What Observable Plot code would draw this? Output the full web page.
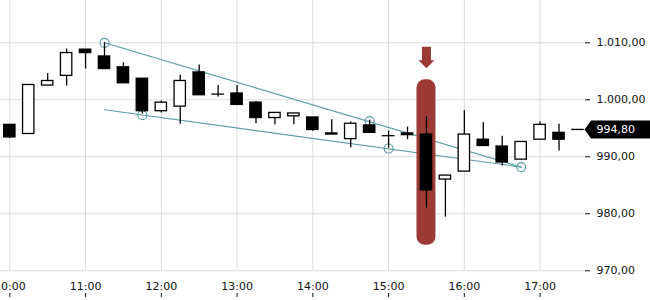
<!DOCTYPE html>
<html>
<head>
<meta charset="utf-8">
<script src="https://cdn.jsdelivr.net/npm/d3@7"></script>
<script src="https://cdn.jsdelivr.net/npm/@observablehq/plot@0.6"></script>
<style>
  html, body { margin: 0; padding: 0; background: #fff; }
  #chart { width: 650px; height: 300px; overflow: hidden; }
</style>
</head>
<body>
<div id="chart"></div>
<script>
// ---- data ----
const times = ["10:00","10:15","10:30","10:45","11:00","11:15","11:30","11:45","12:00","12:15","12:30","12:45","13:00","13:15","13:30","13:45","14:00","14:15","14:30","14:45","15:00","15:15","15:30","15:45","16:00","16:15","16:30","16:45","17:00","17:15","17:30"];
const open  = [995.6, 994.0, 1002.5, 1004.2, 1008.8, 1007.6, 1005.7, 1003.7, 998.0, 998.8, 1004.8, 1001.0, 1001.1, 999.5, 996.8, 997.1, 996.9, 994.1, 993.1, 995.5, 993.7, 994.1, 993.9, 986.0, 987.4, 993.0, 991.8, 989.5, 993.0, 994.2, 994.8];
const high  = [995.6, 1002.6, 1004.6, 1008.9, 1008.8, 1010.0, 1006.5, 1003.7, 999.8, 1004.3, 1006.1, 1002.5, 1002.5, 999.7, 997.7, 997.6, 996.9, 996.5, 996.1, 996.4, 994.5, 995.2, 997.0, 986.7, 998.1, 996.0, 993.6, 992.6, 996.1, 995.7, 994.8];
const low   = [993.2, 994.0, 1002.5, 1002.4, 1005.4, 1005.4, 1002.9, 997.5, 997.7, 995.7, 1000.8, 1000.5, 999.0, 995.8, 995.6, 995.6, 994.5, 993.9, 991.6, 994.2, 991.5, 993.0, 981.0, 979.4, 987.4, 991.9, 988.4, 989.5, 993.0, 991.0, 994.8];
const close = [993.4, 1002.6, 1003.3, 1008.2, 1008.2, 1005.4, 1002.9, 998.0, 999.5, 1003.3, 1000.8, 1001.0, 999.1, 996.8, 997.7, 997.6, 994.7, 993.9, 995.8, 994.2, 993.7, 993.8, 984.1, 986.7, 993.9, 991.9, 989.0, 992.6, 995.6, 993.0, 994.8];

const highlightTime = "15:30";
const lastPrice = 994.80;

const trendTimes = ["11:15", "16:45"];
const upperTrend = [1010.0, 988.2];
const lowerTrend = [998.25, 988.2];

const pivotTimes  = ["11:15", "11:45", "14:45", "15:00", "16:45"];
const pivotValues = [1010.0, 997.3, 996.25, 991.45, 988.2];

const hourTicks = ["10:00","11:00","12:00","13:00","14:00","15:00","16:00","17:00"];
const yTicks = [970, 980, 990, 1000, 1010];

// ---- helpers ----
const T = s => { const [h, m] = s.split(":").map(Number); return new Date(2024, 0, 15, h, m, 0); };
const off = (d, min) => new Date(d.getTime() + min * 60000);
const de = d3.formatLocale({decimal: ",", thousands: ".", grouping: [3], currency: ["", " €"]});
const fmt = de.format(",.2f");
const hm = d3.timeFormat("%H:%M");

const candles = times.map((t, i) => ({t: T(t), o: open[i], h: high[i], l: low[i], c: close[i], up: close[i] >= open[i]}));
const bodies = candles.filter(d => d.o !== d.c);
const dojis = candles.filter(d => d.o === d.c);
const hl = candles.find(d => hm(d.t) === highlightTime);
const pad = 6.5;
const highlight = [{t: hl.t, top: hl.h + pad, bottom: hl.l - pad}];

const trendUpper = trendTimes.map((t, i) => ({t: T(t), v: upperTrend[i]}));
const trendLower = trendTimes.map((t, i) => ({t: T(t), v: lowerTrend[i]}));
const pivots = pivotTimes.map((t, i) => ({t: T(t), v: pivotValues[i]}));
const hours = hourTicks.map(T);

const teal = "#5c9ea5";
const red = "#9c3b35";

const arrowSymbol = {
  draw(ctx) {
    ctx.moveTo(-4.5, -33);
    ctx.lineTo(4.5, -33);
    ctx.lineTo(4.5, -19.5);
    ctx.lineTo(8, -19.5);
    ctx.lineTo(0, -11.5);
    ctx.lineTo(-8, -19.5);
    ctx.lineTo(-4.5, -19.5);
    ctx.closePath();
  }
};
const tagSymbol = {
  draw(ctx) {
    ctx.moveTo(0, 0);
    ctx.lineTo(6.5, -9);
    ctx.lineTo(80, -9);
    ctx.lineTo(80, 9);
    ctx.lineTo(6.5, 9);
    ctx.closePath();
  }
};

const chart = Plot.plot({
  width: 650,
  height: 300,
  marginLeft: 0,
  marginRight: 66,
  marginTop: 0,
  marginBottom: 30,
  style: {fontFamily: "DejaVu Sans", fontSize: "11px", color: "#111", background: "#fff", overflow: "visible"},
  x: {type: "time", domain: [new Date(2024, 0, 15, 9, 52, 38), new Date(2024, 0, 15, 17, 35, 10)], label: null},
  y: {domain: [970.05, 1017.42], label: null},
  marks: [
    Plot.gridY(yTicks, {stroke: "#dcdcdc", strokeOpacity: 1}),
    Plot.gridX(hours, {stroke: "#dcdcdc", strokeOpacity: 1}),
    Plot.axisY(yTicks, {anchor: "right", tickSize: 5, tickPadding: 7, tickFormat: fmt, stroke: "#111", fill: "#111"}),
    Plot.axisX(hours, {tickSize: 0, tickPadding: 12, tickFormat: hm, fill: "#111"}),
    Plot.ruleX(hours, {x: d => d, insetTop: 293, insetBottom: -27, stroke: "#111", strokeWidth: 1}),
    // trend lines
    Plot.line(trendUpper, {x: "t", y: "v", stroke: teal, strokeWidth: 1.2}),
    Plot.line(trendLower, {x: "t", y: "v", stroke: teal, strokeWidth: 1.2}),
    Plot.dot(pivots, {x: "t", y: "v", r: 4.5, stroke: teal, strokeWidth: 1.2, fill: "none"}),
    // highlight
    Plot.rect(highlight, {x1: d => off(d.t, -7.5), x2: d => off(d.t, 7.5), y1: "bottom", y2: "top", fill: red, rx: 8}),
    Plot.dot(highlight, {x: "t", y: "top", symbol: arrowSymbol, fill: red, stroke: "none"}),
    // candles
    Plot.ruleX(candles, {x: "t", y1: "l", y2: "h", stroke: "#000", strokeWidth: 1.3}),
    Plot.rect(bodies, {
      x1: d => off(d.t, -4.5), x2: d => off(d.t, 4.5),
      y1: "o", y2: "c",
      fill: d => d.up ? "#fff" : "#000",
      stroke: "#000", strokeWidth: 1.3
    }),
    Plot.ruleY(dojis, {y: "o", x1: d => off(d.t, -5), x2: d => off(d.t, 5), stroke: "#000", strokeWidth: 1.3}),
    // last price tag
    Plot.dot([lastPrice], {y: d => d, frameAnchor: "right", symbol: tagSymbol, fill: "#000", stroke: "none"}),
    Plot.text([lastPrice], {y: d => d, frameAnchor: "right", dx: 12, textAnchor: "start", text: d => fmt(d), fill: "#fff", fontSize: 11})
  ]
});
document.getElementById("chart").appendChild(chart);
</script>
</body>
</html>
